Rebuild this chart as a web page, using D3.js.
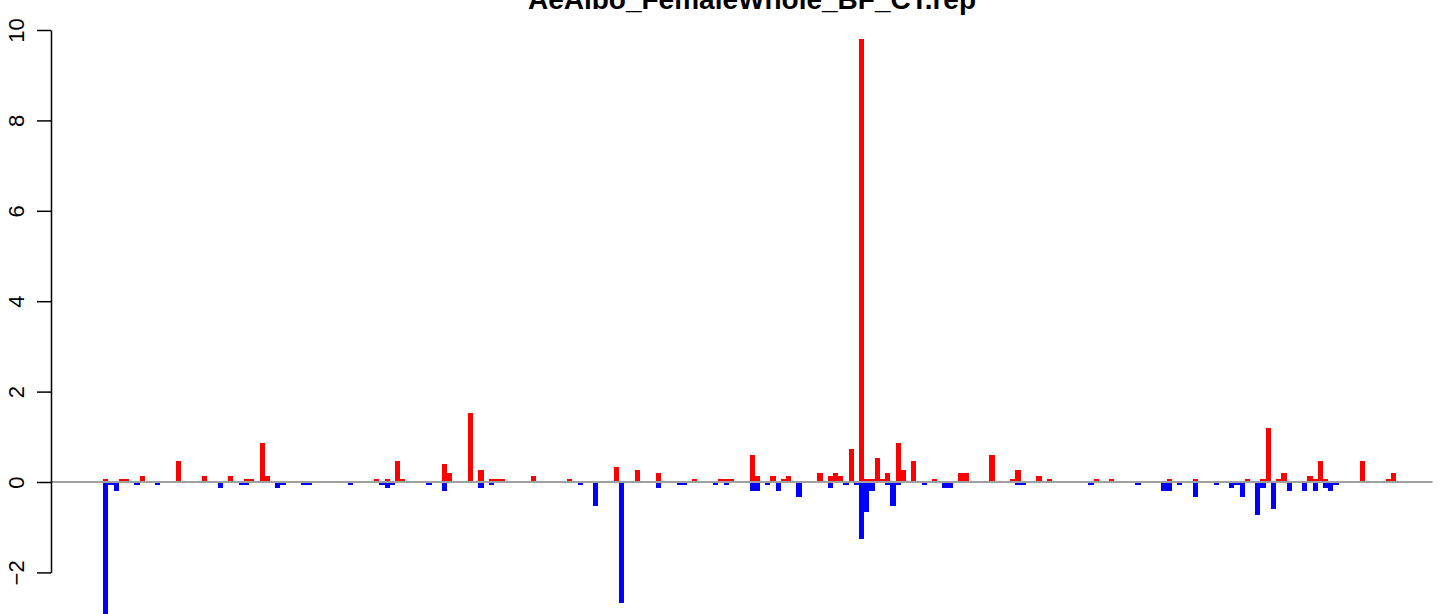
<!DOCTYPE html>
<html><head><meta charset="utf-8">
<script src="https://cdn.jsdelivr.net/npm/d3@7"></script>
<style>body{margin:0;background:#fff}svg{display:block}</style>
</head><body>
<script>
const chartTitle = "AeAlbo_FemaleWhole_BF_CT.rep";
const nBars = 265;
const yTicks = [-2, 0, 2, 4, 6, 8, 10];

// positive (red) bars: bar index and value
const upIndex = [10,13,14,17,24,29,34,37,38,40,41,62,64,66,67,75,76,80,82,84,85,86,92,99,108,112,116,123,128,129,130,134,135,138,140,141,147,149,150,151,153,155,156,157,158,159,160,162,163,165,169,174,175,180,184,185,189,191,200,203,214,219,229,232,233,235,236,241,242,243,244,251,256,257];
const upValue = [0.067,0.067,0.067,0.133,0.467,0.133,0.133,0.067,0.067,0.867,0.133,0.067,0.067,0.467,0.067,0.4,0.2,1.533,0.267,0.067,0.067,0.067,0.133,0.067,0.333,0.267,0.2,0.067,0.067,0.067,0.067,0.6,0.133,0.133,0.067,0.133,0.2,0.133,0.2,0.133,0.733,9.8,0.067,0.067,0.533,0.067,0.2,0.867,0.267,0.467,0.067,0.2,0.2,0.6,0.067,0.267,0.133,0.067,0.067,0.067,0.067,0.067,0.067,0.067,1.2,0.067,0.2,0.133,0.067,0.467,0.067,0.467,0.067,0.2];

// negative (blue) bars: bar index and value
const downIndex = [10,11,12,16,20,32,36,37,43,44,48,49,57,63,64,65,72,75,82,84,101,104,109,116,120,121,127,129,134,135,137,139,143,149,152,154,155,156,157,160,161,162,167,171,172,185,186,199,208,213,214,216,219,223,226,227,228,231,232,234,237,240,242,244,245,246];
const downValue = [-3.0,-0.067,-0.2,-0.067,-0.067,-0.133,-0.067,-0.067,-0.133,-0.067,-0.067,-0.067,-0.067,-0.067,-0.133,-0.067,-0.067,-0.2,-0.133,-0.067,-0.067,-0.533,-2.667,-0.133,-0.067,-0.067,-0.067,-0.067,-0.2,-0.2,-0.067,-0.2,-0.333,-0.133,-0.067,-0.067,-1.267,-0.667,-0.2,-0.067,-0.533,-0.067,-0.067,-0.133,-0.133,-0.067,-0.067,-0.067,-0.067,-0.2,-0.2,-0.067,-0.333,-0.067,-0.133,-0.067,-0.333,-0.733,-0.133,-0.6,-0.2,-0.2,-0.2,-0.133,-0.2,-0.067];

const W = 1444, H = 614;
const plotLeft = 51, plotRight = 1432.5;

const svg = d3.select("body").append("svg")
  .attr("width", W).attr("height", H)
  .style("font-family", "'Liberation Sans', Arial, Helvetica, sans-serif");

const x = d3.scaleBand().domain(d3.range(nBars)).range([plotLeft, plotRight]).padding(0);
const y = d3.scaleLinear().domain([-2, 10]).range([572.4, 30]);

const up = upIndex.map((k, i) => ({k, v: upValue[i]}));
const down = downIndex.map((k, i) => ({k, v: downValue[i]}));

svg.append("g").selectAll("rect").data(up).join("rect")
  .attr("x", d => x(d.k)).attr("width", x.bandwidth())
  .attr("y", d => y(d.v)).attr("height", d => y(0) - y(d.v))
  .attr("fill", "#ff0000").attr("shape-rendering", "crispEdges");

svg.append("g").selectAll("rect").data(down).join("rect")
  .attr("x", d => x(d.k)).attr("width", x.bandwidth())
  .attr("y", y(0)).attr("height", d => y(d.v) - y(0))
  .attr("fill", "#0000ff").attr("shape-rendering", "crispEdges");

// zero line
svg.append("line")
  .attr("x1", plotLeft).attr("x2", plotRight)
  .attr("y1", y(0)).attr("y2", y(0))
  .attr("stroke", "#a0a0a0").attr("stroke-width", 2);

// y axis
const ax = svg.append("g").attr("transform", `translate(${plotLeft},0)`)
  .call(d3.axisLeft(y).tickValues(yTicks).tickSize(14).tickSizeOuter(0));
ax.select(".domain").attr("stroke", "#000").attr("stroke-width", 1.5);
ax.selectAll(".tick line").attr("stroke", "#000").attr("stroke-width", 1.5);
ax.selectAll(".tick text")
  .attr("transform", "rotate(-90)")
  .attr("x", 0).attr("y", -27).attr("dy", 0)
  .attr("text-anchor", "middle")
  .attr("fill", "#000")
  .style("font-size", "22px")
  .style("font-family", "'Liberation Sans', Arial, Helvetica, sans-serif");

// title
svg.append("text")
  .attr("x", 752).attr("y", 9)
  .attr("text-anchor", "middle")
  .style("font-size", "28px").style("font-weight", "bold")
  .text(chartTitle);
</script>
</body></html>
